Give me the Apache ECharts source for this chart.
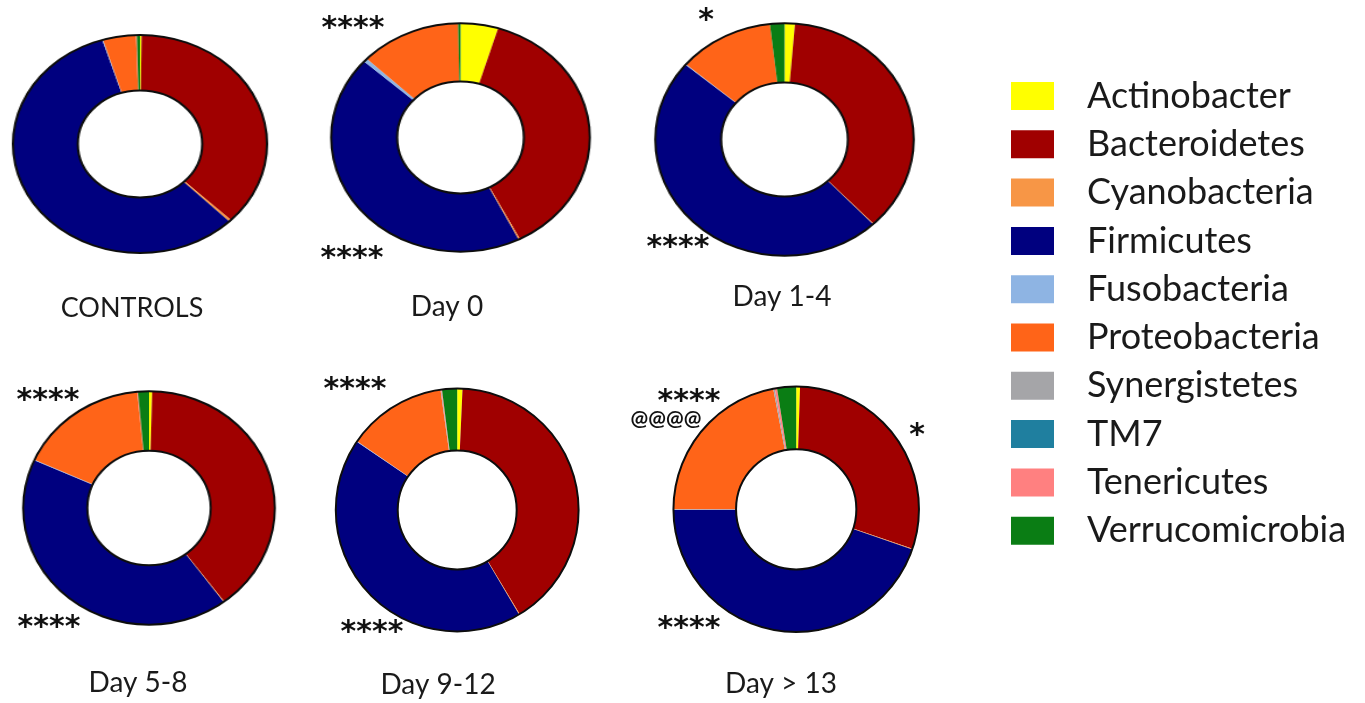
<!DOCTYPE html>
<html>
<head>
<meta charset="utf-8">
<title>Gut microbiota phyla by time point</title>
<script src="https://cdn.jsdelivr.net/npm/echarts/dist/echarts.min.js"></script>
<style>
  html, body { margin: 0; padding: 0; background: #ffffff; }
  #stage { position: relative; width: 1365px; height: 703px; overflow: hidden; }
  #main { position: absolute; left: 0; top: 0; width: 1365px; height: 703px; }
  .ring { position: absolute; pointer-events: none; }
</style>
</head>
<body>
<div id="stage"><div id="main"></div></div>
<script>
// Phyla, in the order they run clockwise from 12 o'clock
const categories = ['Actinobacter', 'Bacteroidetes', 'Cyanobacteria', 'Firmicutes', 'Fusobacteria',
                    'Proteobacteria', 'Synergistetes', 'TM7', 'Tenericutes', 'Verrucomicrobia'];
const colors = ['#ffff00', '#a00000', '#f79646', '#00007f', '#8eb4e3',
                '#ff6418', '#a5a5a8', '#1f7f9f', '#ff8080', '#0a7d14'];

// Relative abundance (%) per group, same order as categories
const controls = [0.2, 37.1, 0.3, 57.6, 0.1, 4.2, 0.0, 0.0, 0.1, 0.4];
const day0     = [4.7, 37.7, 0.2, 44.0, 0.5, 12.6, 0.0, 0.0, 0.0, 0.3];
const day1to4  = [1.3, 36.6, 0.1, 48.1, 0.1, 12.0, 0.0, 0.0, 0.0, 1.8];
const day5to8  = [0.4, 39.4, 0.1, 41.8, 0.1, 16.7, 0.0, 0.0, 0.1, 1.4];
const day9to12 = [0.7, 40.7, 0.1, 43.0, 0.1, 13.2, 0.1, 0.0, 0.1, 2.0];
const day13    = [0.5, 29.7, 0.1, 44.6, 0.1, 22.0, 0.2, 0.0, 0.3, 2.5];

const groupNames = ['CONTROLS', 'Day 0', 'Day 1-4', 'Day 5-8', 'Day 9-12', 'Day > 13'];
const groupValues = [controls, day0, day1to4, day5to8, day9to12, day13];

// Significance marks next to each ring
const markTexts = [
  [],
  ['****', '****'],
  ['*', '****'],
  ['****', '****'],
  ['****', '****'],
  ['****', '@@@@', '*', '****']
];

// ---- layout ----
const HOLE = 0.49;
// ring centre, horizontal / vertical radius, title centre, mark anchors
const layout = [
  { cx: 140,   cy: 144,   rx: 127,   ry: 109,   tx: 132, ty: 308, ts: 27, marks: [] },
  { cx: 460,   cy: 137.5, rx: 129.3, ry: 114.2, tx: 447, ty: 307, ts: 28, marks: [[353, 29], [352, 259]] },
  { cx: 784.2, cy: 139.7, rx: 129.2, ry: 116.3, tx: 782, ty: 297, ts: 28, marks: [[706, 21], [678, 248]] },
  { cx: 149.2, cy: 508.3, rx: 125.8, ry: 116.7, tx: 138, ty: 683, ts: 28, marks: [[48, 401], [49, 628]] },
  { cx: 457.2, cy: 510,   rx: 124.5, ry: 118.3, tx: 438, ty: 685, ts: 28, marks: [[355, 390], [372, 633]] },
  { cx: 796.2, cy: 509.3, rx: 125.5, ry: 120,   tx: 781, ty: 684, ts: 28, marks: [[689, 402], [666, 418], [917, 436], [689, 629]] }
];
// rings drawn in the main (unstretched) chart; the rest get their own stretched canvas
const inMain = [4, 5];

function pieSeries(values, center, r) {
  return {
    type: 'pie',
    silent: true,
    startAngle: 90,
    clockwise: true,
    center: center,
    radius: [r * HOLE, r],
    avoidLabelOverlap: false,
    label: { show: false },
    labelLine: { show: false },
    emphasis: { disabled: true },
    itemStyle: { borderWidth: 0 },
    data: categories.map((name, i) => ({ name: name, value: values[i] }))
  };
}

function outline(cx, cy, r) {
  return [r, r * HOLE].map(rad => ({
    type: 'circle',
    silent: true,
    z: 10,
    shape: { cx: cx, cy: cy, r: rad },
    style: { fill: 'transparent', stroke: '#0d0d0d', lineWidth: 2 }
  }));
}

// ---- stretched rings (own canvas, scaled horizontally) ----
const stage = document.getElementById('stage');
layout.forEach((g, idx) => {
  if (inMain.includes(idx)) return;
  const size = Math.ceil(2 * g.ry + 8);
  const div = document.createElement('div');
  div.className = 'ring';
  div.style.width = size + 'px';
  div.style.height = size + 'px';
  div.style.left = (g.cx - size / 2) + 'px';
  div.style.top = (g.cy - size / 2) + 'px';
  div.style.transformOrigin = '50% 50%';
  div.style.transform = 'scaleX(' + (g.rx / g.ry) + ')';
  stage.appendChild(div);
  const chart = echarts.init(div, null, { renderer: 'canvas' });
  chart.setOption({
    animation: false,
    color: colors,
    series: [pieSeries(groupValues[idx], [size / 2, size / 2], g.ry)],
    graphic: outline(size / 2, size / 2, g.ry)
  });
});

// ---- main chart: legend, titles, marks, remaining rings ----
const textFont = 'Lato, "Open Sans", sans-serif';
const graphics = [];
layout.forEach((g, idx) => {
  graphics.push({
    type: 'text', silent: true, x: g.tx, y: g.ty,
    style: { text: groupNames[idx], fill: '#1a1a1a', font: g.ts + 'px ' + textFont,
             textAlign: 'center', textVerticalAlign: 'middle' }
  });
  markTexts[idx].forEach((t, k) => {
    const isAt = t.indexOf('@') >= 0;
    graphics.push({
      type: 'text', silent: true, x: g.marks[k][0], y: g.marks[k][1],
      style: {
        text: t, fill: '#111',
        font: isAt ? 'bold 21px Lato, sans-serif' : 'bold 30px "DejaVu Sans", sans-serif',
        textAlign: 'center', textVerticalAlign: 'middle'
      }
    });
  });
});
inMain.forEach(idx => {
  const g = layout[idx];
  const r = (g.rx + g.ry) / 2;
  graphics.push(...outline(g.cx, g.cy, r));
});

const main = echarts.init(document.getElementById('main'), null, { renderer: 'canvas' });
main.setOption({
  animation: false,
  color: colors,
  legend: {
    orient: 'vertical',
    left: 1006,
    top: 73,
    icon: 'rect',
    itemWidth: 43,
    itemHeight: 28,
    itemGap: 12.3,
    selectedMode: false,
    data: categories,
    textStyle: {
      fontFamily: textFont, fontSize: 36, color: '#1a1a1a',
      lineHeight: 36, padding: [0, 0, 0, 28]
    }
  },
  series: inMain.map(idx => {
    const g = layout[idx];
    return pieSeries(groupValues[idx], [g.cx, g.cy], (g.rx + g.ry) / 2);
  }),
  graphic: graphics
});
</script>
</body>
</html>
